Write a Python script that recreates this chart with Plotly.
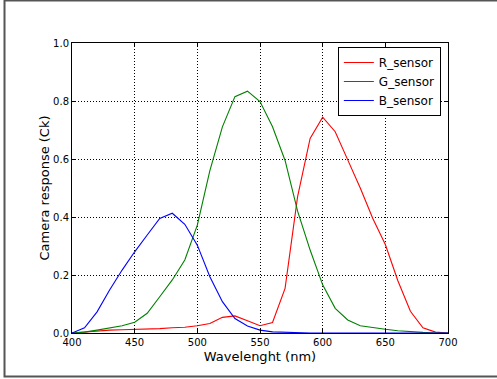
import plotly.graph_objects as go

wavelength = [400, 410, 420, 430, 440, 450, 460, 470, 480, 490, 500, 510, 520, 530, 540, 550,
              560, 570, 580, 590, 600, 610, 620, 630, 640, 650, 660, 670, 680, 690, 700]
r_sensor = [0.0, 0.003, 0.008, 0.010, 0.011, 0.012, 0.012, 0.015, 0.018, 0.020, 0.025, 0.033,
            0.054, 0.059, 0.042, 0.025, 0.036, 0.154, 0.470, 0.671, 0.744, 0.694, 0.597, 0.500,
            0.395, 0.305, 0.180, 0.075, 0.018, 0.003, 0.0]
g_sensor = [0.0, 0.003, 0.010, 0.017, 0.025, 0.037, 0.068, 0.125, 0.183, 0.252, 0.372, 0.560,
            0.711, 0.815, 0.834, 0.798, 0.711, 0.595, 0.420, 0.286, 0.166, 0.085, 0.045, 0.025,
            0.018, 0.013, 0.008, 0.004, 0.002, 0.0, 0.0]
b_sensor = [0.0, 0.018, 0.073, 0.148, 0.217, 0.280, 0.338, 0.395, 0.413, 0.375, 0.303, 0.194,
            0.108, 0.050, 0.024, 0.010, 0.004, 0.002, 0.001, 0.0, 0.0, 0.0, 0.0, 0.0,
            0.0, 0.0, 0.0, 0.0, 0.0, 0.0, 0.0]

series = [("R_sensor", r_sensor, "#ff0000"),
          ("G_sensor", g_sensor, "#008000"),
          ("B_sensor", b_sensor, "#0000ff")]

fig = go.Figure()
for name, vals, col in series:
    fig.add_trace(go.Scatter(x=wavelength, y=vals, mode="lines", name=name,
                             line=dict(color=col, width=1.1)))

font = "DejaVu Sans, sans-serif"
axis_common = dict(showline=True, linecolor="black", linewidth=1, mirror="ticks",
                   ticks="inside", ticklen=4, tickcolor="black", showgrid=True,
                   gridcolor="black", gridwidth=0.8, griddash="1px,2px", zeroline=False,
                   tickfont=dict(family=font, size=10, color="black"))
fig.update_xaxes(range=[400, 700], tickvals=[400, 450, 500, 550, 600, 650, 700],
                 title=dict(text="Wavelenght (nm)", font=dict(family=font, size=13, color="black"),
                            standoff=4), **axis_common)
fig.update_yaxes(range=[0, 1.0], tickvals=[0, 0.2, 0.4, 0.6, 0.8, 1.0],
                 ticktext=["0.0", "0.2", "0.4", "0.6", "0.8", "1.0"],
                 title=dict(text="Camera response (Ck)", font=dict(family=font, size=13, color="black"),
                            standoff=0), **axis_common)

fig.add_shape(type="rect", xref="paper", yref="paper", x0=-0.1795, x1=1.3, y0=-0.1503, y1=1.1466,
              line=dict(color="#555555", width=2), fillcolor="rgba(0,0,0,0)", layer="below")

fig.update_layout(
    width=497, height=379,
    margin=dict(l=72, r=49, t=43, b=46),
    paper_bgcolor="white", plot_bgcolor="white",
    font=dict(family=font, size=11, color="black"),
    legend=dict(x=0.981, y=0.986, xanchor="right", yanchor="top",
                bgcolor="white", bordercolor="black", borderwidth=1,
                font=dict(family=font, size=12, color="black"),
                tracegroupgap=0, itemwidth=30),
)

fig.write_html("out.html")
